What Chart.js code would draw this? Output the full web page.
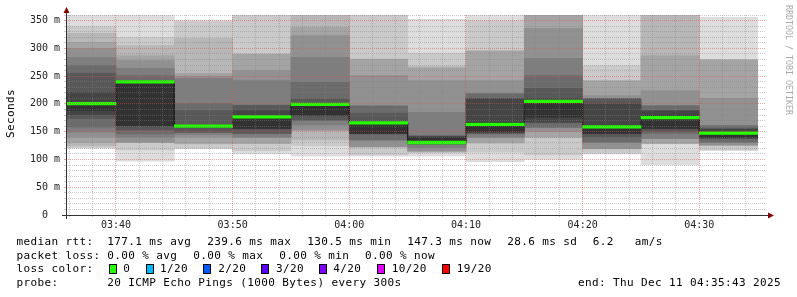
<!DOCTYPE html>
<html>
<head>
<meta charset="utf-8">
<script src="https://cdn.jsdelivr.net/npm/chart.js@4.4.1/dist/chart.umd.min.js"></script>
<style>
  html, body { margin: 0; padding: 0; background: #ffffff; }
  canvas { display: block; }
</style>
</head>
<body>
<canvas id="c" width="797" height="297"></canvas>
<script>
// ---------------- DATA ----------------
// 5-minute slots (start time of each slot)
const slotStarts = ['03:35','03:40','03:45','03:50','03:55','04:00','04:05','04:10','04:15','04:20','04:25','04:30'];
const slotLength = 5; // minutes
const rangeStart = '03:35:43';
const rangeEnd   = '04:35:43';

// 20 sorted ping round-trip times (ms) per slot
const rtt0335 = [120,121,125,130,140,149,158,174,180,188, 203,221,255,269,284,300,311,327,339,365];
const rtt0340 = [97,117,130,131,131,140,146,153,160,161, 240,241,242,251,264,278,287,305,320,365];
const rtt0345 = [120,120,128,129,140,145,148,149,157,158, 161,161.5,188,201,246,250,255,318,348,351];
const rtt0350 = [110,116,128.5,129,139.5,140,146.5,147,155.5,156, 177,188,197.5,198,242,260,289,290,365,366];
const rtt0355 = [106,125,135,152,153,162,170,171,179,180, 200,200.5,209,239,284,323,338,370,371,372];
const rtt0400 = [106,108,122,122.5,123,134.5,135,146,146.5,147, 167,168,183,196,197,251,280,281,365,366];
const rtt0405 = [106,112,113,114,116,121,127,128,128.5,129, 140,141,142,143,185,242,265,267,291,352];
const rtt0410 = [96,113,129,130,139,140,146,147,148,150, 167,209,210,218,219,242,295,296,350,365];
const rtt0415 = [100,108,139,140,150,157,158,166,167,176, 207,210,228,251,282,336,370,371,372,373];
const rtt0420 = [110,111,119,119.5,120,130.5,131,140,146.5,147, 160,200,209,209.5,210,215,241.5,242,269,362];
const rtt0425 = [90,128,128.5,129,137.5,138,147,150,155.5,156, 179,187.5,188,196.5,197,224,287,368,369,370];
const rtt0430 = [116,117,125,125.5,126,130.5,131,138,138.5,139, 150,154.5,155,160.5,161,210,279,279.5,280,356];
const rttSorted = [rtt0335,rtt0340,rtt0345,rtt0350,rtt0355,rtt0400,rtt0405,rtt0410,rtt0415,rtt0420,rtt0425,rtt0430];

// median rtt (ms) per slot
const medianRtt = [200.5, 239.6, 160.0, 176.5, 199.0, 165.7, 130.5, 163.0, 204.6, 158.5, 175.3, 147.3];

// axis ticks
const yMin = 0, yMax = 360, yMinorStep = 10, yMajorStep = 50;
const xMinorStep = 2, xMajorStep = 10;

// legend texts
const statsRtt  = ['177.1 ms avg','239.6 ms max','130.5 ms min','147.3 ms now','28.6 ms sd','6.2   am/s'];
const statsLoss = ['0.00 % avg','0.00 % max','0.00 % min','0.00 % now'];
const lossLabels = ['0','1/20','2/20','3/20','4/20','10/20','19/20'];
const lossColors = ['#26ff00','#00b8ff','#0059ff','#5e00ff','#7e00ff','#dd00ff','#ff0000'];
const probeText = '20 ICMP Echo Pings (1000 Bytes) every 300s';
const endText = 'end: Thu Dec 11 04:35:43 2025';

// ---------------- STYLE ----------------
const MONO = '"DejaVu Sans Mono", "Liberation Mono", monospace';
const PX_PER_MIN = 700 / 60;
const BAR_PX = slotLength * PX_PER_MIN;
const MEDIAN_HALF = 2.4;
const GRID_MINOR = 'rgba(128,128,128,0.42)';
const GRID_MAJOR = 'rgba(222,80,80,0.5)';

function toMin(s) {
  const p = s.split(':').map(Number);
  return p[0] * 60 + p[1] + (p[2] || 0) / 60;
}
function fmtHM(v) {
  const h = Math.floor(v / 60), m = Math.round(v - h * 60);
  return String(h).padStart(2, '0') + ':' + String(m).padStart(2, '0');
}
const slotCenter = slotStarts.map(s => toMin(s) + slotLength / 2);

function isMajor(c, step) {
  return !!(c && c.tick && Math.abs(Math.round(c.tick.value) % step) === 0 && Math.abs(c.tick.value - Math.round(c.tick.value)) < 1e-6);
}

// ---------------- DATASETS ----------------
const datasets = [];
const HALF = 10;
for (let k = 1; k <= HALF; k++) {
  const g = Math.round(221 - (190 / HALF) * (k - 1));
  datasets.push({
    type: 'bar',
    label: 'smoke' + k,
    data: slotStarts.map((s, i) => ({ x: slotCenter[i], y: [rttSorted[i][k - 1], rttSorted[i][20 - k]] })),
    backgroundColor: `rgb(${g},${g},${g})`,
    borderWidth: 0,
    grouped: false,
    barThickness: BAR_PX,
    order: 40 - k,
    clip: 0
  });
}
datasets.push({
  type: 'line',
  label: 'median',
  data: slotStarts.flatMap((s, i) => [
    { x: toMin(s), y: medianRtt[i] },
    { x: toMin(s) + slotLength, y: medianRtt[i] }
  ]),
  borderColor: '#202020',
  borderWidth: 1,
  pointRadius: 0,
  fill: false,
  tension: 0,
  order: 5,
  clip: 0
});
datasets.push({
  type: 'bar',
  label: 'median loss 0',
  data: slotStarts.map((s, i) => ({ x: slotCenter[i], y: [medianRtt[i] - MEDIAN_HALF, medianRtt[i] + MEDIAN_HALF] })),
  backgroundColor: lossColors[0],
  borderWidth: 0,
  grouped: false,
  barThickness: BAR_PX,
  order: 1,
  clip: 0
});

// ---------------- DECORATION PLUGIN ----------------
const decor = {
  id: 'decor',
  afterDraw(chart) {
    const ctx = chart.ctx;
    const { left, right, top, bottom } = chart.chartArea;
    ctx.save();
    // axes
    ctx.strokeStyle = '#333333';
    ctx.lineWidth = 1;
    ctx.beginPath();
    ctx.moveTo(left - 4, bottom + 0.5); ctx.lineTo(right + 3, bottom + 0.5);
    ctx.moveTo(left + 0.5, bottom + 4); ctx.lineTo(left + 0.5, top - 2);
    ctx.stroke();
    // arrows
    ctx.fillStyle = '#7f0000';
    ctx.beginPath();
    ctx.moveTo(left - 2.5, top - 2); ctx.lineTo(left + 3.5, top - 2); ctx.lineTo(left + 0.5, top - 8);
    ctx.closePath(); ctx.fill();
    ctx.beginPath();
    ctx.moveTo(right + 2, bottom - 2.5); ctx.lineTo(right + 2, bottom + 3.5); ctx.lineTo(right + 8, bottom + 0.5);
    ctx.closePath(); ctx.fill();

    // text
    ctx.fillStyle = '#000000';
    ctx.textBaseline = 'alphabetic';
    ctx.textAlign = 'left';
    ctx.font = '11px ' + MONO;
    if ('letterSpacing' in ctx) ctx.letterSpacing = '0.38px';

    const rows = [244.8, 258.6, 272.4, 286.2];
    ctx.fillText('median rtt:', 16.5, rows[0]);
    const rttX = [107.3, 207.3, 307.3, 407.3, 507.3, 592.7];
    statsRtt.forEach((t, i) => ctx.fillText(t, rttX[i], rows[0]));

    ctx.fillText('packet loss:', 16.5, rows[1]);
    const lossX = [107.3, 193.3, 279.3, 365];
    statsLoss.forEach((t, i) => ctx.fillText(t, lossX[i], rows[1]));

    ctx.fillText('loss color:', 16.5, rows[2]);
    const boxX = [109, 145.7, 203.3, 261, 319.3, 377.3, 442.3];
    const lblX = [123.3, 160, 218.3, 276, 333.3, 391.7, 456.7];
    lossLabels.forEach((t, i) => {
      const bx = Math.round(boxX[i]);
      ctx.fillStyle = lossColors[i];
      ctx.fillRect(bx, 264, 7, 9);
      ctx.strokeStyle = '#000000';
      ctx.lineWidth = 1;
      ctx.strokeRect(bx + 0.5, 264.5, 7, 9);
      ctx.fillStyle = '#000000';
      ctx.fillText(t, lblX[i], rows[2]);
    });

    ctx.fillText('probe:', 16.5, rows[3]);
    ctx.fillText(probeText, 107.3, rows[3]);
    ctx.textAlign = 'right';
    ctx.fillText(endText, 781, rows[3]);

    // y axis title
    ctx.save();
    ctx.translate(11, 113.5);
    ctx.rotate(-Math.PI / 2);
    ctx.textAlign = 'center';
    ctx.textBaseline = 'middle';
    ctx.fillText('Seconds', 0, 0);
    ctx.restore();

    // watermark
    ctx.save();
    if ('letterSpacing' in ctx) ctx.letterSpacing = '0px';
    ctx.font = '8.3px ' + MONO;
    ctx.fillStyle = '#a8a8a8';
    ctx.translate(788.5, 5);
    ctx.rotate(Math.PI / 2);
    ctx.textAlign = 'left';
    ctx.textBaseline = 'middle';
    ctx.fillText('RRDTOOL / TOBI OETIKER', 0, 0);
    ctx.restore();

    ctx.restore();
  }
};

// ---------------- CHART ----------------
new Chart(document.getElementById('c'), {
  type: 'bar',
  data: { datasets },
  options: {
    responsive: false,
    animation: false,
    devicePixelRatio: 1,
    layout: { padding: { left: 0, right: 31, top: 15, bottom: 0 } },
    plugins: { legend: { display: false }, tooltip: { enabled: false }, title: { display: false } },
    scales: {
      x: {
        type: 'linear',
        offset: false,
        min: toMin(rangeStart),
        max: toMin(rangeEnd),
        afterFit: s => { s.height = 82; s.paddingLeft = 0; s.paddingRight = 0; },
        afterBuildTicks: s => {
          const t = [];
          for (let v = Math.ceil(s.min / xMinorStep) * xMinorStep; v <= s.max + 1e-9; v += xMinorStep) t.push({ value: v });
          s.ticks = t;
        },
        ticks: {
          autoSkip: false, maxRotation: 0, minRotation: 0, padding: 2,
          color: '#222222',
          font: { family: MONO, size: 10 },
          callback: v => (Math.abs(Math.round(v) % xMajorStep) === 0 && Math.abs(v - Math.round(v)) < 1e-6 ? fmtHM(v) : '')
        },
        grid: {
          z: 1,
          offset: false,
          lineWidth: 1,
          color: c => (isMajor(c, xMajorStep) ? GRID_MAJOR : GRID_MINOR),
          drawTicks: true,
          tickLength: 2,
          tickColor: c => (isMajor(c, xMajorStep) ? GRID_MAJOR : GRID_MINOR)
        },
        border: { display: false, dash: [1, 1] }
      },
      y: {
        min: yMin,
        max: yMax,
        afterFit: s => { s.width = 66; s.paddingTop = 0; s.paddingBottom = 0; },
        afterBuildTicks: s => {
          const t = [];
          for (let v = yMin; v <= yMax; v += yMinorStep) t.push({ value: v });
          s.ticks = t;
        },
        ticks: {
          autoSkip: false, padding: 4,
          color: '#222222',
          font: { family: MONO, size: 10 },
          callback: v => (v % yMajorStep === 0 ? (v === 0 ? '0  ' : v + ' m') : '')
        },
        grid: {
          z: 1,
          lineWidth: 1,
          color: c => (isMajor(c, yMajorStep) ? GRID_MAJOR : GRID_MINOR),
          drawTicks: true,
          tickLength: 2,
          tickColor: c => (isMajor(c, yMajorStep) ? GRID_MAJOR : GRID_MINOR)
        },
        border: { display: false, dash: [1, 1] }
      }
    }
  },
  plugins: [decor]
});
</script>
</body>
</html>
